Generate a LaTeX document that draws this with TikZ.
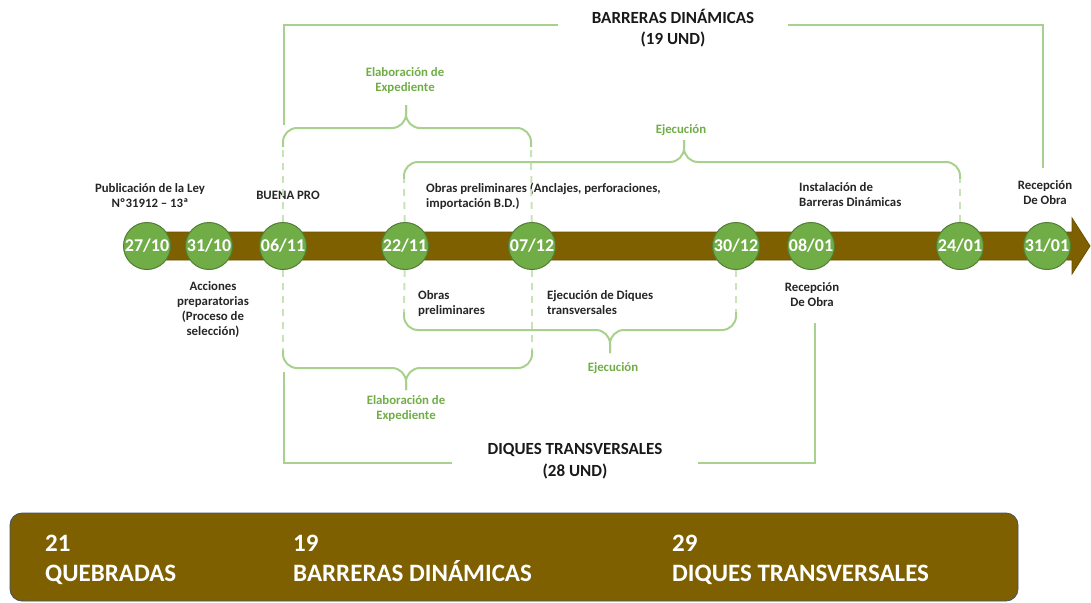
\documentclass[tikz,border=0pt]{standalone}
\usepackage{fontspec}
\setmainfont{Carlito}
\definecolor{bandfill}{HTML}{7F6000}
\definecolor{bandedge}{HTML}{6A5000}
\definecolor{dotfill}{HTML}{70AD47}
\definecolor{dotedge}{HTML}{507E32}
\definecolor{guide}{HTML}{A9D18E}
\definecolor{guidelight}{HTML}{C9E3B8}
\definecolor{boxedge}{HTML}{41526B}
\tikzset{
	date node/.style={circle, draw=dotedge, line width=1pt, fill=dotfill, minimum size=47pt, inner sep=0, text=white, font=\fontsize{18}{18}\selectfont\bfseries},
	note node/.style={inner sep=0, align=center, text=black!85, font=\fontsize{12.8}{15}\selectfont\bfseries},
	phase node/.style={inner sep=0, align=center, text=dotfill, font=\fontsize{12.8}{15}\selectfont\bfseries},
	title node/.style={inner sep=0, align=center, text=black!90, font=\fontsize{17}{21.5}\selectfont\bfseries},
	total node/.style={inner sep=0, align=left, anchor=north west, text=white, font=\fontsize{25}{30}\selectfont\bfseries},
	brace line/.style={draw=guide, line width=2pt, rounded corners=14pt},
	dash line/.style={draw=guidelight, line width=2pt, dash pattern=on 7pt off 6pt},
	frame line/.style={draw=guide, line width=1.5pt},
}
\begin{document}
\begin{tikzpicture}[x=1pt, y=-1pt]
  \useasboundingbox (0,0) rectangle (1091,602);

  % timeline band
  \fill[bandfill, draw=bandedge, line width=0.8pt] (150,232) -- (1072,232) -- (1072,218) -- (1090,246)
    -- (1072,274) -- (1072,260) -- (150,260) -- cycle;

  % dates
  \node[date node] (d2710) at (147,246) {27/10};
  \node[date node] (d3110) at (209,246) {31/10};
  \node[date node] (d0611) at (283,246) {06/11};
  \node[date node] (d2211) at (405,246) {22/11};
  \node[date node] (d0712) at (532,246) {07/12};
  \node[date node] (d3012) at (736,246) {30/12};
  \node[date node] (d0801) at (811,246) {08/01};
  \node[date node] (d2401) at (960,246) {24/01};
  \node[date node] (d3101) at (1047,246) {31/01};

  % notes above and below
  \node[note node] (pub) at (150,196) {Publicación de la Ley\\Nº31912 – 13ª};
  \node[note node] (buena) at (288,195) {BUENA PRO};
  \node[note node, anchor=west, align=left] (obras) at (426,196) {Obras preliminares (Anclajes, perforaciones,\\importación B.D.)};
  \node[note node, anchor=west, align=left] (inst) at (799,195) {Instalación de\\Barreras Dinámicas};
  \node[note node] (recA) at (1045,193) {Recepción\\De Obra};
  \node[note node] (acc) at (213,309) {Acciones\\preparatorias\\(Proceso de\\selección)};
  \node[note node, anchor=west, align=left] (obpre) at (418,304) {Obras\\preliminares};
  \node[note node, anchor=west, align=left] (ejdiq) at (547,303) {Ejecución de Diques\\transversales};
  \node[note node] (recB) at (812,295) {Recepción\\De Obra};

  % phase labels
  \node[phase node] (elabA) at (405,81) {Elaboración de\\Expediente};
  \node[phase node] (ejecA) at (681,130) {Ejecución};
  \node[phase node] (ejecB) at (613,368) {Ejecución};
  \node[phase node] (elabB) at (406,409) {Elaboración de\\Expediente};

  % titles and frames
  \node[title node, minimum width=230pt] (bd) at (673,28) {BARRERAS DINÁMICAS\\(19 UND)};
  \node[title node, minimum width=245pt] (dt) at (575,461) {DIQUES TRANSVERSALES\\(28 UND)};
  \coordinate (bdl) at (284,125);
  \coordinate (bdr) at (1043,168);
  \coordinate (dtl) at (284,372);
  \coordinate (dtr) at (815,323);
  \draw[frame line] ([yshift=3pt]bd.west) -| (bdl);
  \draw[frame line] ([yshift=3pt]bd.east) -| (bdr);
  \draw[frame line] ([yshift=-2pt]dt.west) -| (dtl);
  \draw[frame line] ([yshift=-2pt]dt.east) -| (dtr);

  % braces
  \coordinate (eAl) at (283,147);
  \coordinate (eAr) at (531,147);
  \coordinate (eAt) at (406,105);
  \draw[brace line] (eAl) -- (283,128) -- (406,128) -- (eAt);
  \draw[brace line] (eAr) -- (531,128) -- (406,128) -- (eAt);
  \draw[dash line] (d0611) -- (eAl);
  \draw[dash line] (d0712) -- (eAr);

  \coordinate (jAl) at (404,179);
  \coordinate (jAr) at (960,179);
  \coordinate (jAt) at (684,140);
  \draw[brace line] (jAl) -- (404,162) -- (684,162) -- (jAt);
  \draw[brace line] (jAr) -- (960,162) -- (684,162) -- (jAt);
  \draw[dash line] (d2211) -- (jAl);
  \draw[dash line] (d2401) -- (jAr);

  \coordinate (jBl) at (404,312);
  \coordinate (jBr) at (736,312);
  \coordinate (jBt) at (610,353);
  \draw[brace line] (jBl) -- (404,330) -- (610,330) -- (jBt);
  \draw[brace line] (jBr) -- (736,330) -- (610,330) -- (jBt);
  \draw[dash line] (d2211) -- (jBl);
  \draw[dash line] (d3012) -- (jBr);

  \coordinate (eBl) at (283,350);
  \coordinate (eBr) at (532,350);
  \coordinate (eBt) at (406,390);
  \draw[brace line] (eBl) -- (283,368) -- (406,368) -- (eBt);
  \draw[brace line] (eBr) -- (532,368) -- (406,368) -- (eBt);
  \draw[dash line] (d0611) -- (eBl);
  \draw[dash line] (d0712) -- (eBr);

  % totals
  \draw[fill=bandfill, draw=boxedge, line width=0.8pt, rounded corners=12pt] (10,513) rectangle (1018,601);
  \node[total node] (quebradas) at (45,535) {21\\QUEBRADAS};
  \node[total node] (barreras) at (293,535) {19\\BARRERAS DINÁMICAS};
  \node[total node] (diques) at (672,535) {29\\DIQUES TRANSVERSALES};

\end{tikzpicture}
\end{document}
